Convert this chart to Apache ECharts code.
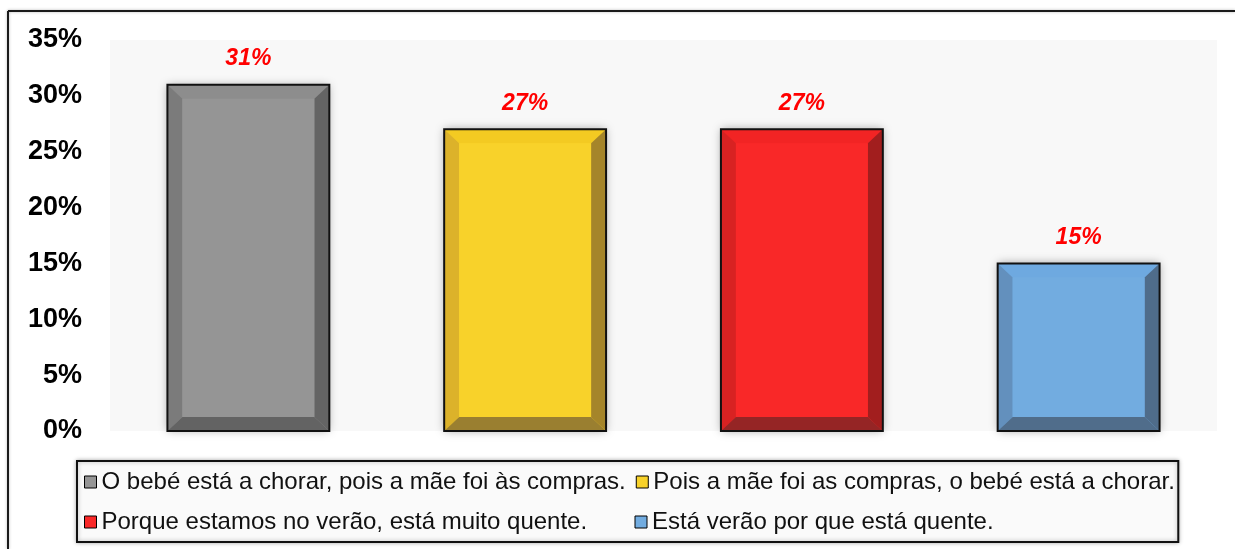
<!DOCTYPE html>
<html>
<head>
<meta charset="utf-8">
<script src="https://cdn.jsdelivr.net/npm/echarts@6/dist/echarts.min.js"></script>
<style>
html,body{margin:0;padding:0;background:#fff;}
#chart{width:1235px;height:549px;}
</style>
</head>
<body>
<div id="chart"></div>
<script>
// ---- data ----
const categories = [
  'O bebé está a chorar, pois a mãe foi às compras.',
  'Pois a mãe foi as compras, o bebé está a chorar.',
  'Porque estamos no verão, está muito quente.',
  'Está verão por que está quente.'
];
const values = [31, 27, 27, 15];
const yMin = 0, yMax = 35, yStep = 5;

// ---- styles (bevel shades per bar: face, top, left, right, bottom) ----
const shades = [
  ['#959595', '#8d8d8d', '#7b7b7b', '#646464', '#636363'],
  ['#F8D22A', '#F3CA22', '#DCB22A', '#A5852A', '#9A7F30'],
  ['#F92828', '#F22424', '#D82222', '#A21E1E', '#952525'],
  ['#72ACE0', '#6EA9E0', '#6390BD', '#4F6C8A', '#506D8B']
];

const chart = echarts.init(document.getElementById('chart'), null, {renderer: 'canvas'});

function makeRender(sh) {
  return function (params, api) {
    const xi = api.value(0), v = api.value(1);
    const topPt = api.coord([xi, v]);
    const basePt = api.coord([xi, 0]);
    const bw = api.size([1, 0])[0] * 0.585;
    const L = topPt[0] - bw / 2, R = topPt[0] + bw / 2;
    const T = topPt[1], B = basePt[1];
    const b = 15, bv = 14;
    const iL = L + b, iR = R - b, iT = T + bv, iB = B - bv;
    return {
      type: 'group',
      children: [
        {type: 'rect', shape: {x: L, y: T, width: bw, height: B - T},
          style: {fill: sh[0], shadowBlur: 9, shadowColor: 'rgba(0,0,0,0.35)'}},
        {type: 'polygon', shape: {points: [[L, T], [R, T], [iR, iT], [iL, iT]]}, style: {fill: sh[1]}},
        {type: 'polygon', shape: {points: [[L, T], [iL, iT], [iL, iB], [L, B]]}, style: {fill: sh[2]}},
        {type: 'polygon', shape: {points: [[R, T], [R, B], [iR, iB], [iR, iT]]}, style: {fill: sh[3]}},
        {type: 'polygon', shape: {points: [[L, B], [iL, iB], [iR, iB], [R, B]]}, style: {fill: sh[4]}},
        {type: 'rect', shape: {x: iL, y: iT, width: iR - iL, height: iB - iT}, style: {fill: sh[0]}},
        {type: 'rect', shape: {x: L, y: T, width: bw, height: B - T},
          style: {fill: 'none', stroke: '#111', lineWidth: 2}},
        {type: 'text', x: topPt[0], y: T - 26,
          style: {text: v + '%', fill: '#FF0000', align: 'center', verticalAlign: 'middle',
            font: 'italic bold 23px Arial, "Liberation Sans", sans-serif'}}
      ]
    };
  };
}

const series = categories.map(function (name, i) {
  return {
    name: name,
    type: 'custom',
    renderItem: makeRender(shades[i]),
    itemStyle: {color: shades[i][0]},
    encode: {x: 0, y: 1},
    data: [[i, values[i]]],
    clip: false
  };
});

chart.setOption({
  animation: false,
  grid: {left: 110, right: 18, top: 40, bottom: 118, show: true,
    backgroundColor: '#f8f8f8', borderWidth: 0},
  xAxis: {
    type: 'category', data: categories,
    axisLine: {show: false}, axisTick: {show: false}, axisLabel: {show: false},
    splitLine: {show: false}
  },
  yAxis: {
    type: 'value', min: yMin, max: yMax, interval: yStep,
    axisLine: {show: false}, axisTick: {show: false}, splitLine: {show: false},
    axisLabel: {formatter: '{value}%', color: '#000', fontWeight: 'bold', fontSize: 27,
      fontFamily: 'Arial, "Liberation Sans", sans-serif', margin: 28}
  },
  legend: {
    left: 77, top: 461,
    width: 1100,
    padding: [6, 2, 5, 7],
    itemGap: 10,
    itemWidth: 12, itemHeight: 12,
    icon: 'rect',
    itemStyle: {borderColor: '#000', borderWidth: 1},
    backgroundColor: '#fafafa',
    borderColor: '#111', borderWidth: 2,
    shadowBlur: 4, shadowColor: 'rgba(0,0,0,0.3)',
    selectedMode: false,
    textStyle: {color: '#111', fontSize: 24, fontFamily: 'Arial, "Liberation Sans", sans-serif',
      width: 523, lineHeight: 30, overflow: 'none'},
    data: categories
  },
  graphic: [
    {type: 'line', shape: {x1: 8, y1: 11, x2: 1235, y2: 11},
      style: {stroke: '#1a1a1a', lineWidth: 2, shadowBlur: 3, shadowColor: 'rgba(0,0,0,0.3)'}},
    {type: 'line', shape: {x1: 8, y1: 11, x2: 8, y2: 549},
      style: {stroke: '#1a1a1a', lineWidth: 2, shadowBlur: 3, shadowColor: 'rgba(0,0,0,0.3)'}}
  ],
  series: series
});
</script>
</body>
</html>
